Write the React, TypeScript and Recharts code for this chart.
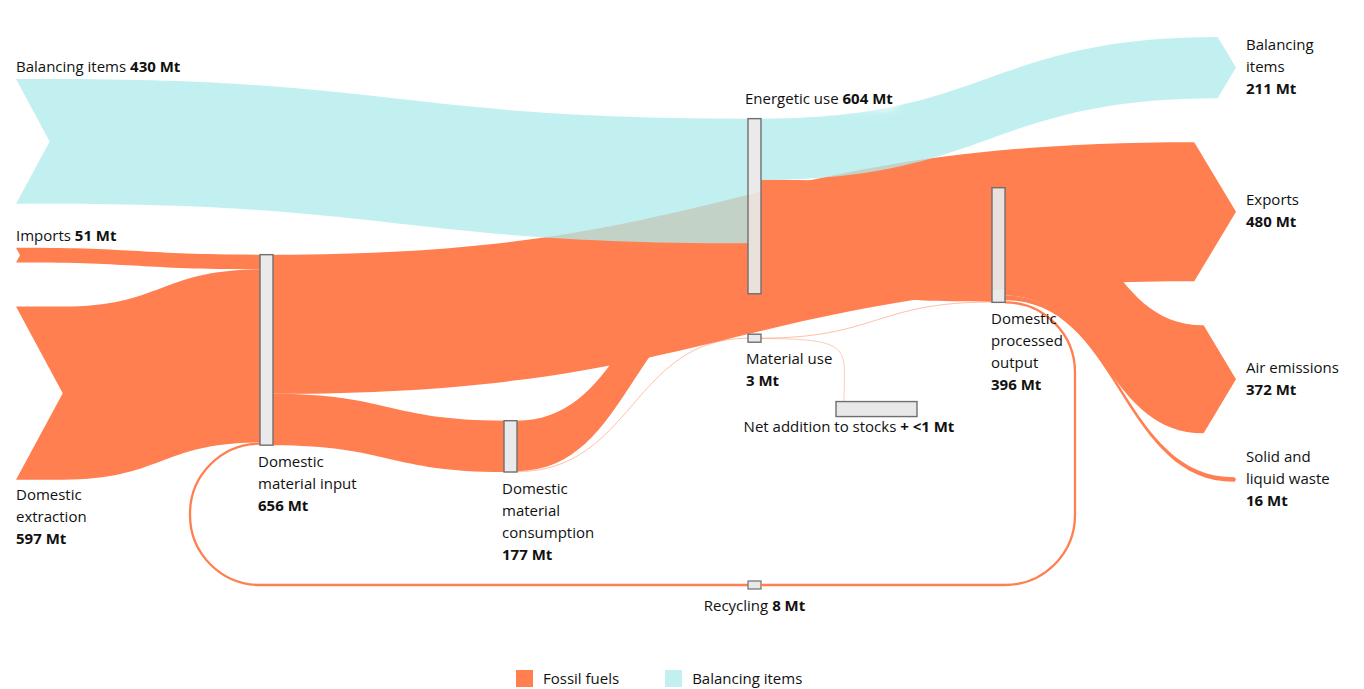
import React from "react";
import { Sankey } from "recharts";

const FOSSIL = "#ff7f50";
const BALANCE = "#afebeb";
const BOX_FILL = "#e8e8e8";
const BOX_STROKE = "#6f6f6f";
const FONT = "'Open Sans', Lato, sans-serif";
const FONT_SIZE = 15;

// nodes (index order is the top-to-bottom order inside a column)
const nodeNames = [
  "Balancing items",
  "Imports",
  "Domestic extraction",
  "Recycling",
  "Domestic material input",
  "Domestic material consumption",
  "Energetic use",
  "Material use",
  "Domestic processed output",
  "Balancing items",
  "Exports",
  "Air emissions",
  "Solid and liquid waste",
  "Net addition to stocks",
];
const nodeValueLabels = [
  "430 Mt", "51 Mt", "597 Mt", "8 Mt", "656 Mt", "177 Mt", "604 Mt",
  "3 Mt", "396 Mt", "211 Mt", "480 Mt", "372 Mt", "16 Mt", "+ <1 Mt",
];
const nodeLabelLines = [
  ["Balancing items"],
  ["Imports"],
  ["Domestic", "extraction"],
  ["Recycling"],
  ["Domestic", "material input"],
  ["Domestic", "material", "consumption"],
  ["Energetic use"],
  ["Material use"],
  ["Domestic", "processed", "output"],
  ["Balancing", "items"],
  ["Exports"],
  ["Air emissions"],
  ["Solid and", "liquid waste"],
  ["Net addition to stocks"],
];

// links (fossil flows first, balancing items last so they sit on top)
const linkSources = [1, 2, 3, 4, 4, 5, 5, 6, 7, 7, 8, 8, 0, 6];
const linkTargets = [4, 4, 4, 10, 5, 6, 7, 8, 8, 13, 11, 12, 6, 9];
const linkValues = [51, 597, 8, 480, 177, 174, 3, 393, 2.5, 0.5, 372, 16, 430, 211];

const data = {
  nodes: nodeNames.map((name) => ({ name })),
  links: linkValues.map((value, i) => ({
    source: linkSources[i],
    target: linkTargets[i],
    value,
  })),
};

const WIDTH = 1348;
const HEIGHT = 650;
const MARGIN = { top: 29, right: 107, bottom: 132, left: 8 };
const NODE_W = 13;
const COL_W = (WIDTH - MARGIN.left - MARGIN.right - NODE_W) / 5;
const LINE_H = 22;
const LOOP_R = 70;
const LOOP_Y = 577;

const isBalancing = (n: any) => n.name === "Balancing items";

function ValueText({ x, y, lines, value, inline, anchor = "start" }: any) {
  if (inline) {
    return (
      <text x={x} y={y} textAnchor={anchor} fontSize={FONT_SIZE} fontFamily={FONT} fill="#111">
        {lines[0]} <tspan fontWeight={700}>{value}</tspan>
      </text>
    );
  }
  return (
    <text x={x} y={y} fontSize={FONT_SIZE} fontFamily={FONT} fill="#111">
      {lines.map((l: string, i: number) => (
        <tspan key={i} x={x} dy={i === 0 ? 0 : LINE_H}>
          {l}
        </tspan>
      ))}
      <tspan x={x} dy={LINE_H} fontWeight={700}>
        {value}
      </tspan>
    </text>
  );
}

const thinPath = (x0: number, y0: number, x1: number, y1: number) => {
  const mx = (x0 + x1) / 2;
  return `M${x0},${y0} C${mx},${y0} ${mx},${y1} ${x1},${y1}`;
};

function renderLink(props: any) {
  const { sourceX, targetX, sourceY, targetY, linkWidth, payload } = props;
  const src = payload.source;
  const tgt = payload.target;
  const w = linkWidth;

  if (src.name === "Recycling") {
    // left half of the recycling loop, running back into the input
    const r = LOOP_R;
    const boxX = targetX + 2 * COL_W;
    return (
      <g>
        <path
          d={`M${targetX},${targetY} A${r},${r} 0 0 0 ${targetX - r},${targetY + r} L${targetX - r},${LOOP_Y - r} A${r},${r} 0 0 0 ${targetX},${LOOP_Y} L${boxX},${LOOP_Y}`}
          fill="none"
          stroke={FOSSIL}
          strokeWidth={Math.max(w, 2)}
        />
        <rect x={boxX} y={LOOP_Y - 4} width={NODE_W} height={8} fill={BOX_FILL} stroke={BOX_STROKE} strokeWidth={1.2} />
        <ValueText x={boxX + NODE_W / 2} y={LOOP_Y + 26} lines={nodeLabelLines[3]} value={nodeValueLabels[3]} inline anchor="middle" />
      </g>
    );
  }

  if (tgt.name === "Net addition to stocks") {
    // small box hanging just right of the material use
    const bx = sourceX + 75;
    const by = sourceY + 63;
    return (
      <g>
        <path
          d={`M${sourceX},${sourceY} C${bx + 20},${sourceY} ${bx + 8},${sourceY + 10} ${bx + 8},${by}`}
          fill="none"
          stroke={FOSSIL}
          strokeOpacity={0.4}
          strokeWidth={1}
        />
        <rect x={bx} y={by} width={81} height={15} fill={BOX_FILL} stroke={BOX_STROKE} strokeWidth={1.4} />
        <ValueText x={sourceX + 88} y={by + 30} lines={nodeLabelLines[13]} value={nodeValueLabels[13]} inline anchor="middle" />
      </g>
    );
  }

  if (w < 2) {
    return <path d={thinPath(sourceX, sourceY, targetX, targetY)} fill="none" stroke={FOSSIL} strokeOpacity={0.5} strokeWidth={1} />;
  }

  const tail = src.sourceNodes.length === 0;
  const head = tgt.targetNodes.length === 0;
  const x0 = tail ? sourceX - NODE_W : sourceX;
  const notch = tail ? 0.27 * w : 0;
  const xa = x0 + notch;
  const headLen = head ? 0.3 * w : 0;
  const xb = targetX - headLen;
  const cx = (xa + xb) / 2;
  const t0 = sourceY - w / 2;
  const b0 = sourceY + w / 2;
  const t1 = targetY - w / 2;
  const b1 = targetY + w / 2;
  const d =
    `M${x0},${t0} L${xa},${t0} C${cx},${t0} ${cx},${t1} ${xb},${t1} ` +
    (head ? `L${targetX},${targetY} ` : "") +
    `L${xb},${b1} C${cx},${b1} ${cx},${b0} ${xa},${b0} L${x0},${b0} ` +
    (tail ? `L${x0 + notch},${sourceY} ` : "") +
    "Z";
  const bal = isBalancing(src) || isBalancing(tgt);
  return <path d={d} fill={bal ? BALANCE : FOSSIL} fillOpacity={bal ? 0.77 : 1} stroke="none" />;
}

function renderNode(props: any) {
  const { x, y, width, height, index, payload } = props;
  const lines = nodeLabelLines[index];
  const value = nodeValueLabels[index];
  const isInput = payload.sourceNodes.length === 0;
  const isOutput = payload.targetNodes.length === 0;

  if (payload.name === "Recycling" || payload.name === "Net addition to stocks") return <g />;

  if (isInput) {
    if (lines.length > 1) {
      return <ValueText x={x} y={y + height + 20} lines={lines} value={value} />;
    }
    return <ValueText x={x} y={y - 7} lines={lines} value={value} inline />;
  }

  if (isOutput) {
    const n = lines.length + 1;
    const cy = y + height / 2 + 4;
    return <ValueText x={x + 10} y={cy - ((n - 1) / 2) * 21.5} lines={lines} value={value} />;
  }

  const h = Math.max(height, 8);
  const top = y + height / 2 - h / 2;
  const box = (
    <rect x={x} y={top} width={width} height={h} fill={BOX_FILL} fillOpacity={0.92} stroke={BOX_STROKE} strokeWidth={1.4} />
  );

  if (payload.name === "Energetic use") {
    return (
      <g>
        {box}
        <defs>
          <filter id="glow" x="-20%" y="-80%" width="140%" height="260%">
            <feGaussianBlur stdDeviation="4" />
          </filter>
        </defs>
        <text x={x - 3} y={y - 15} fontSize={FONT_SIZE} fontFamily={FONT} stroke="#fff" strokeWidth={9} strokeLinejoin="round" fill="#fff" filter="url(#glow)">
          {lines[0]} <tspan fontWeight={700}>{value}</tspan>
        </text>
        <ValueText x={x - 3} y={y - 15} lines={lines} value={value} inline />
      </g>
    );
  }

  if (payload.name === "Domestic processed output") {
    // right half of the recycling loop, leaving the processed output
    const r = LOOP_R;
    const xr = x + width;
    const yb = y + height;
    const boxEnd = x - COL_W + NODE_W;
    return (
      <g>
        <path
          d={`M${xr},${yb} A${r},${r} 0 0 1 ${xr + r},${yb + r} L${xr + r},${LOOP_Y - r} A${r},${r} 0 0 1 ${xr},${LOOP_Y} L${boxEnd},${LOOP_Y}`}
          fill="none"
          stroke={FOSSIL}
          strokeWidth={2.3}
        />
        {box}
        <ValueText x={x - 1} y={top + h + 22} lines={lines} value={value} />
      </g>
    );
  }

  return (
    <g>
      {box}
      <ValueText x={x - 2} y={top + h + 22} lines={lines} value={value} />
    </g>
  );
}

function Legend() {
  const item = (color: string, label: string) => (
    <div style={{ display: "flex", alignItems: "center", marginRight: 46 }}>
      <span style={{ width: 17, height: 17, background: color, display: "inline-block", marginRight: 10 }} />
      <span>{label}</span>
    </div>
  );
  return (
    <div
      style={{
        display: "flex",
        alignItems: "center",
        marginLeft: 508,
        marginTop: 10,
        fontFamily: FONT,
        fontSize: FONT_SIZE,
        color: "#111",
      }}
    >
      {item(FOSSIL, "Fossil fuels")}
      {item("#c2f0f0", "Balancing items")}
    </div>
  );
}

export default function App() {
  return (
    <div style={{ width: WIDTH, fontFamily: FONT }}>
      <Sankey
        width={WIDTH}
        height={HEIGHT}
        data={data}
        margin={MARGIN}
        nodeWidth={NODE_W}
        nodePadding={44}
        iterations={32}
        sort={false}
        link={renderLink}
        node={renderNode}
      />
      <Legend />
    </div>
  );
}
